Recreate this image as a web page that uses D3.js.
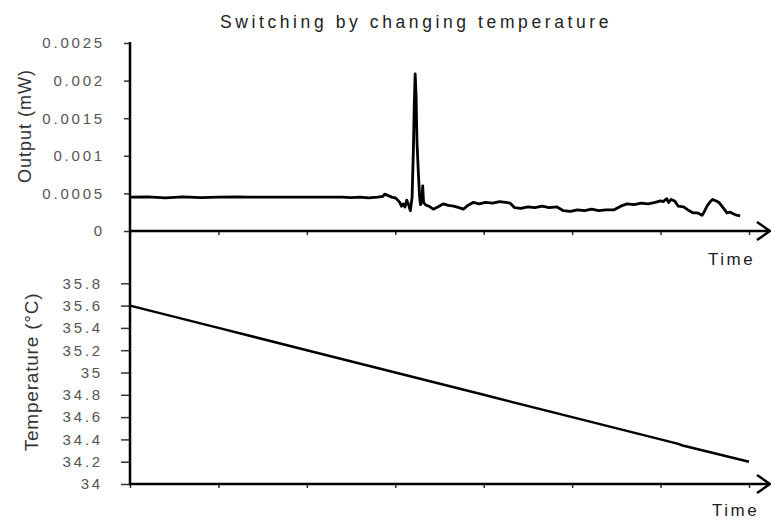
<!DOCTYPE html>
<html>
<head>
<meta charset="utf-8">
<script src="https://cdn.jsdelivr.net/npm/d3@7"></script>
<style>
  body { margin: 0; background: #fff; }
  svg { display: block; font-family: "Liberation Sans", Arial, sans-serif; }
</style>
</head>
<body>
<svg id="chart" width="771" height="520"></svg>
<script>
// Top panel: optical output vs time (time in tick units, no labels)
const outputT = [0, 0.2, 0.4, 0.6, 0.8, 1.0, 1.2, 1.35, 2.4, 2.5, 2.6, 2.7, 2.8, 2.86, 2.88, 2.92, 2.96,
  3.0, 3.02, 3.05, 3.07, 3.09, 3.11, 3.13, 3.15, 3.17, 3.19, 3.205, 3.215, 3.225, 3.235, 3.245, 3.26,
  3.275, 3.285, 3.3, 3.31, 3.32, 3.34, 3.38, 3.43, 3.48, 3.54, 3.6, 3.66, 3.72, 3.77, 3.82, 3.88, 3.95,
  4.02, 4.1, 4.18, 4.25, 4.3, 4.35, 4.42, 4.5, 4.58, 4.66, 4.74, 4.83, 4.9, 4.98, 5.06, 5.14, 5.22,
  5.3, 5.38, 5.47, 5.55, 5.62, 5.7, 5.78, 5.86, 5.94, 6.0, 6.03, 6.07, 6.09, 6.12, 6.16, 6.2, 6.26,
  6.31, 6.37, 6.42, 6.47, 6.5, 6.53, 6.57, 6.59, 6.63, 6.66, 6.7, 6.75, 6.79, 6.82, 6.86, 6.9];
const outputMW = [0.00045, 0.000455, 0.00044, 0.000455, 0.000445, 0.00045, 0.000455, 0.00045, 0.00045,
  0.000445, 0.00045, 0.00044, 0.00045, 0.00046, 0.00049, 0.00047, 0.00045,
  0.00044, 0.00042, 0.00038, 0.00033, 0.00036, 0.00032, 0.00041, 0.00035, 0.00027, 0.00045, 0.0011,
  0.0017, 0.00209, 0.0018, 0.0012, 0.0008,
  0.00045, 0.00035, 0.0004, 0.0006, 0.00038, 0.00035, 0.00033, 0.00029, 0.00032, 0.00036, 0.00034,
  0.00033, 0.00031, 0.00029, 0.00034, 0.00038, 0.00036,
  0.00038, 0.00037, 0.00039, 0.00038, 0.00037, 0.00031, 0.0003, 0.00032, 0.00031, 0.00033, 0.00031,
  0.00032, 0.00027, 0.00026, 0.00028, 0.00027, 0.00029,
  0.00027, 0.00028, 0.00028, 0.00033, 0.00036, 0.00035, 0.00037, 0.00036, 0.00038, 0.0004, 0.00039,
  0.00043, 0.00038, 0.00042, 0.0004, 0.00033, 0.00032,
  0.00028, 0.00024, 0.00024, 0.00021, 0.00027, 0.00034, 0.0004, 0.00042, 0.0004, 0.00038, 0.00032,
  0.00024, 0.00025, 0.00023, 0.00021, 0.0002];

// Bottom panel: temperature vs time
const tempT = [0, 1, 2, 3, 4, 5, 6, 6.2, 6.25, 7];
const tempC = [35.6, 35.4, 35.2, 35.0, 34.8, 34.6, 34.4, 34.36, 34.345, 34.2];

const outputTicks = [0, 0.0005, 0.001, 0.0015, 0.002, 0.0025];
const tempTicks = [34, 34.2, 34.4, 34.6, 34.8, 35, 35.2, 35.4, 35.6, 35.8];
const timeTicks = [0, 1, 2, 3, 4, 5, 6, 7];

const svg = d3.select('#chart');

const x = d3.scaleLinear().domain([0, 7]).range([130, 749]);
const yOut = d3.scaleLinear().domain([0, 0.0025]).range([231, 43]);
const yTemp = d3.scaleLinear().domain([34, 35.8]).range([484, 283.3]);

function styleAxis(g) {
  g.select('.domain').remove();
  g.selectAll('.tick line').attr('stroke', '#333').attr('stroke-width', 1.5);
  g.selectAll('.tick text')
    .attr('fill', '#555')
    .style('font-size', '15px')
    .style('letter-spacing', '2.8px');
}

// y axes
svg.append('g')
  .attr('transform', 'translate(130,0)')
  .call(d3.axisLeft(yOut).tickValues(outputTicks).tickSize(6).tickPadding(19).tickFormat(d => String(d)))
  .call(styleAxis);

svg.append('g')
  .attr('transform', 'translate(130,0)')
  .call(d3.axisLeft(yTemp).tickValues(tempTicks).tickSize(9).tickPadding(18).tickFormat(d => String(d)))
  .call(styleAxis);

// x axes (ticks only)
[231, 484].forEach(yy => {
  svg.append('g')
    .attr('transform', 'translate(0,' + yy + ')')
    .call(d3.axisBottom(x).tickValues(timeTicks).tickSize(4).tickFormat(''))
    .call(styleAxis);
});

// axis lines
svg.append('line')
  .attr('x1', 130).attr('x2', 130).attr('y1', 42).attr('y2', 485)
  .attr('stroke', '#000').attr('stroke-width', 2.5);

[231, 484].forEach(yy => {
  svg.append('line')
    .attr('x1', 129).attr('x2', 770).attr('y1', yy).attr('y2', yy)
    .attr('stroke', '#000').attr('stroke-width', 2.5);
  svg.append('path')
    .attr('d', 'M757,' + (yy - 9) + 'L770,' + yy + 'L757,' + (yy + 9))
    .attr('fill', 'none').attr('stroke', '#000').attr('stroke-width', 2.5);
});

// data lines
const outLine = d3.line().x((d, i) => x(outputT[i])).y(d => yOut(d));
svg.append('path')
  .datum(outputMW)
  .attr('d', outLine)
  .attr('fill', 'none').attr('stroke', '#000').attr('stroke-width', 2.8)
  .attr('stroke-linejoin', 'round');

const tempLine = d3.line().x((d, i) => x(tempT[i])).y(d => yTemp(d));
svg.append('path')
  .datum(tempC)
  .attr('d', tempLine)
  .attr('fill', 'none').attr('stroke', '#000').attr('stroke-width', 2.5);

// texts
svg.append('text')
  .attr('x', 416).attr('y', 28)
  .attr('text-anchor', 'middle')
  .attr('fill', '#222')
  .style('font-size', '17.5px')
  .style('letter-spacing', '3.6px')
  .text('Switching by changing temperature');

svg.append('text')
  .attr('transform', 'translate(31,126) rotate(-90)')
  .attr('text-anchor', 'middle')
  .attr('fill', '#333')
  .style('font-size', '18px')
  .style('letter-spacing', '1px')
  .text('Output (mW)');

svg.append('text')
  .attr('transform', 'translate(38,372) rotate(-90)')
  .attr('text-anchor', 'middle')
  .attr('fill', '#333')
  .style('font-size', '19px')
  .style('letter-spacing', '0.8px')
  .text('Temperature (°C)');

svg.append('text')
  .attr('x', 708).attr('y', 265)
  .attr('fill', '#222')
  .style('font-size', '17px')
  .style('letter-spacing', '2.5px')
  .text('Time');

svg.append('text')
  .attr('x', 712).attr('y', 516)
  .attr('fill', '#222')
  .style('font-size', '17px')
  .style('letter-spacing', '2.5px')
  .text('Time');
</script>
</body>
</html>
